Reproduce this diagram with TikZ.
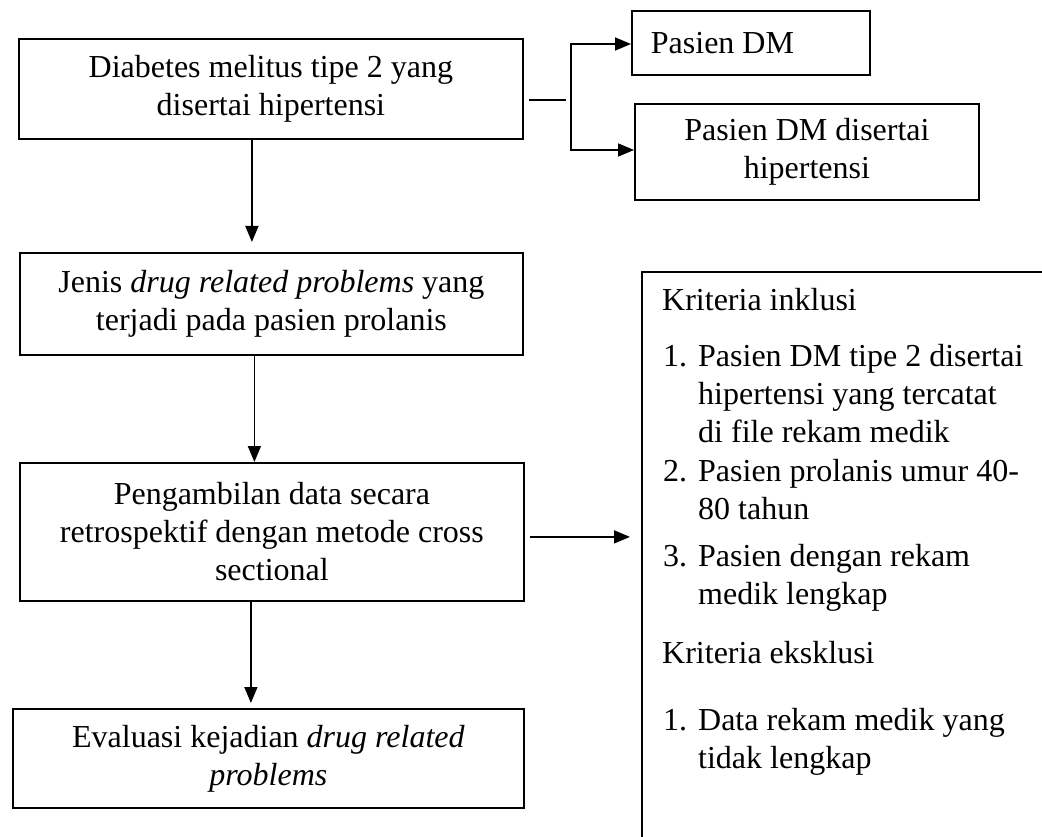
\documentclass[tikz,border=0pt]{standalone}
\usepackage{fontspec}
\setmainfont{Liberation Serif}
\usetikzlibrary{arrows.meta, positioning, calc}
\newcommand{\boxfont}{\fontsize{32}{38}\selectfont}
\newcommand{\listno}[1]{\makebox[35pt][l]{#1}}
\newcommand{\listhang}{\hspace*{35pt}}

\begin{document}
\begin{tikzpicture}[
  x=1pt, y=-1pt,
  flowbox/.style={
    rectangle, draw, line width=1.8pt,
    inner sep=0pt, align=center, font=\boxfont
  },
  listtext/.style={
    anchor=base west, inner sep=0pt,
    text width=380pt, align=flush left, font=\boxfont
  },
  flowarrow/.style={line width=1.6pt, -{Triangle[length=16pt,width=13pt]}},
  joinline/.style={line width=1.5pt}
]
  \useasboundingbox (0,0) rectangle (1042,837);
  \clip (0,0) rectangle (1042,837);

  % main column
  \node[flowbox, anchor=north west, minimum width=504pt, minimum height=100pt] (diab) at (18,38)
    {Diabetes melitus tipe 2 yang\\disertai hipertensi};
  \node[flowbox, anchor=north west, minimum width=503pt, minimum height=102pt] (jenis) at (19,252)
    {Jenis \textit{drug related problems} yang\\terjadi pada pasien prolanis};
  \node[flowbox, anchor=north west, minimum width=504pt, minimum height=138pt] (ambil) at (19,462)
    {Pengambilan data secara\\retrospektif dengan metode cross\\sectional};
  \node[flowbox, anchor=north west, minimum width=511pt, minimum height=99pt] (eval) at (12,708)
    {Evaluasi kejadian \textit{drug related}\\\textit{problems}};

  % patient groups
  \node[flowbox, anchor=north west, minimum width=238pt, minimum height=64pt,
        text width=200pt, align=flush left] (pdm) at (631,10) {Pasien DM};
  \node[flowbox, anchor=north west, minimum width=344pt, minimum height=96pt] (pdmh) at (634,103)
    {Pasien DM disertai\\hipertensi};

  % criteria box
  \node[flowbox, anchor=north west, minimum width=500pt, minimum height=700pt] (krit) at (641,271) {};
  \node[listtext] (inkl) at (662,310) {Kriteria inklusi};
  \node[listtext] (inkla) at (663,366)
    {\listno{1.}Pasien DM tipe 2 disertai\\\listhang hipertensi yang tercatat\\\listhang di file rekam medik};
  \node[listtext] (inklb) at (663,481)
    {\listno{2.}Pasien prolanis umur 40-\\\listhang 80 tahun};
  \node[listtext] (inklc) at (663,566)
    {\listno{3.}Pasien dengan rekam\\\listhang medik lengkap};
  \node[listtext] (ekskl) at (662,663) {Kriteria eksklusi};
  \node[listtext] (eksa) at (663,730)
    {\listno{1.}Data rekam medik yang\\\listhang tidak lengkap};

  % branch to patient groups
  \coordinate (jtop) at (571,44);
  \coordinate (jmid) at (571,100);
  \coordinate (jbot) at (571,150);
  \draw[joinline] ([xshift=5pt]diab.east |- jmid) -- ([xshift=-5pt]jmid);
  \draw[joinline] ([yshift=1pt]jtop) -- ([yshift=-1pt]jbot);
  \draw[flowarrow] (jtop) -- (jtop -| pdm.west);
  \draw[flowarrow] (jbot) -- (jbot -| pdmh.west);

  % flow
  \draw[flowarrow, shorten >=10pt] ([xshift=-19pt]diab.south) -- ([xshift=-19pt]diab.south |- jenis.north);
  \draw[flowarrow] ([xshift=-17pt]jenis.south) -- ([xshift=-17pt]jenis.south |- ambil.north);
  \draw[flowarrow, shorten >=5pt] ([xshift=-21pt]ambil.south) -- ([xshift=-21pt]ambil.south |- eval.north);
  \draw[flowarrow, shorten <=5pt, shorten >=11pt] ([yshift=-5pt]ambil.east) -- ([yshift=-5pt]ambil.east -| krit.west);
\end{tikzpicture}
\end{document}
